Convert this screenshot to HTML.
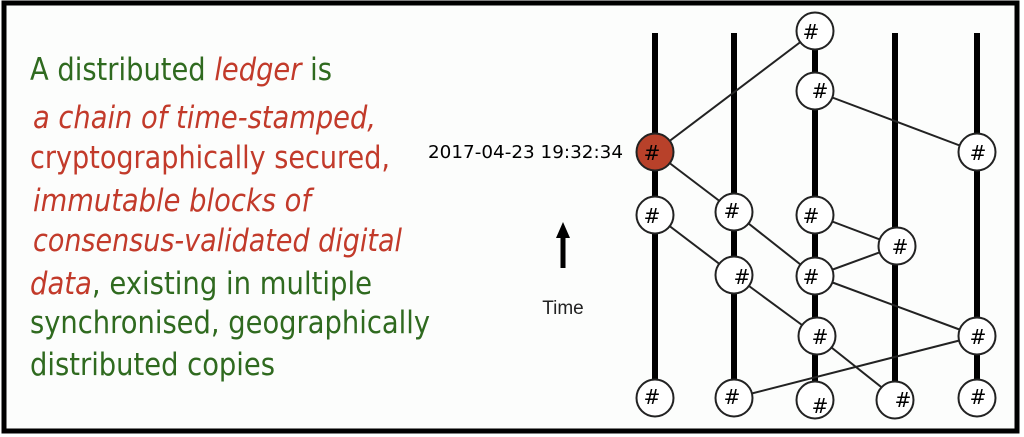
<!DOCTYPE html>
<html><head><meta charset="utf-8"><style>
html,body{margin:0;padding:0;background:#fff;}
svg{display:block;}
</style></head><body>
<svg width="1024" height="437" viewBox="0 0 1024 437" xmlns="http://www.w3.org/2000/svg">
<rect x="0" y="0" width="1024" height="437" fill="#fff"/>
<rect x="4" y="3" width="1013" height="428" fill="#fcfdfc" stroke="#000" stroke-width="5"/>
<g font-family="DejaVu Sans, Liberation Sans, sans-serif" font-size="31" fill="#2f6a1f">
<text x="30" y="80" textLength="302" lengthAdjust="spacingAndGlyphs">A distributed <tspan fill="#c23a2a" font-style="italic">ledger</tspan> is</text>
<text x="33" y="128" textLength="343" lengthAdjust="spacingAndGlyphs" fill="#c23a2a" font-style="italic">a chain of time-stamped,</text>
<text x="30" y="168" textLength="360" lengthAdjust="spacingAndGlyphs" fill="#c23a2a">cryptographically secured,</text>
<text x="33" y="211" textLength="278" lengthAdjust="spacingAndGlyphs" fill="#c23a2a" font-style="italic">immutable blocks of</text>
<text x="33" y="251" textLength="369" lengthAdjust="spacingAndGlyphs" fill="#c23a2a" font-style="italic">consensus-validated digital</text>
<text x="30" y="294" textLength="342" lengthAdjust="spacingAndGlyphs"><tspan fill="#c23a2a" font-style="italic">data</tspan>, existing in multiple</text>
<text x="30" y="333" textLength="400" lengthAdjust="spacingAndGlyphs">synchronised, geographically</text>
<text x="30" y="375" textLength="245" lengthAdjust="spacingAndGlyphs">distributed copies</text>
</g>
<text x="428" y="158" textLength="195" lengthAdjust="spacingAndGlyphs" font-family="DejaVu Sans, sans-serif" font-size="18" fill="#000">2017-04-23 19:32:34</text>
<line x1="563" y1="268" x2="563" y2="236" stroke="#000" stroke-width="5"/>
<polygon points="563,222 556,238 570,238" fill="#000"/>
<text x="563" y="314" text-anchor="middle" font-family="Liberation Sans, sans-serif" font-size="19" fill="#222">Time</text>
<g stroke="#000" stroke-width="6">
<line x1="655" y1="33" x2="655" y2="398"/>
<line x1="734" y1="33" x2="734" y2="398"/>
<line x1="815" y1="31" x2="815" y2="398"/>
<line x1="895" y1="33" x2="895" y2="398"/>
<line x1="977" y1="33" x2="977" y2="398"/>
</g>
<g stroke="#222" stroke-width="2">
<line x1="655" y1="152" x2="815" y2="31"/>
<line x1="655" y1="152" x2="734" y2="212"/>
<line x1="815" y1="91" x2="977" y2="152"/>
<line x1="655" y1="215" x2="734" y2="275"/>
<line x1="734" y1="212" x2="815" y2="276"/>
<line x1="815" y1="215" x2="897" y2="246"/>
<line x1="897" y1="246" x2="815" y2="276"/>
<line x1="815" y1="276" x2="977" y2="336"/>
<line x1="734" y1="275" x2="817" y2="336"/>
<line x1="817" y1="336" x2="895" y2="398"/>
<line x1="977" y1="336" x2="734" y2="398"/>
</g>
<g stroke="#222" stroke-width="2" fill="#fff">
<circle cx="815" cy="31" r="18.5"/>
<circle cx="815" cy="91" r="18.5"/>
<circle cx="655" cy="152" r="18.5" fill="#b8412a"/>
<circle cx="977" cy="152" r="18.5"/>
<circle cx="655" cy="215" r="18.5"/>
<circle cx="734" cy="212" r="18.5"/>
<circle cx="815" cy="215" r="18.5"/>
<circle cx="897" cy="246" r="18.5"/>
<circle cx="734" cy="275" r="18.5"/>
<circle cx="815" cy="276" r="18.5"/>
<circle cx="817" cy="336" r="18.5"/>
<circle cx="977" cy="336" r="18.5"/>
<circle cx="655" cy="398" r="18.5"/>
<circle cx="734" cy="398" r="18.5"/>
<circle cx="815" cy="400" r="18.5"/>
<circle cx="895" cy="400" r="18.5"/>
<circle cx="977" cy="398" r="18.5"/>
</g>
<g font-family="DejaVu Sans, sans-serif" font-size="20" fill="#000" text-anchor="middle">
<text x="811" y="39">#</text>
<text x="820" y="98">#</text>
<text x="652" y="160">#</text>
<text x="978" y="160">#</text>
<text x="652" y="223">#</text>
<text x="732" y="218">#</text>
<text x="811" y="223">#</text>
<text x="900" y="254">#</text>
<text x="742" y="284">#</text>
<text x="811" y="284">#</text>
<text x="820" y="344">#</text>
<text x="978" y="344">#</text>
<text x="652" y="404">#</text>
<text x="732" y="404">#</text>
<text x="820" y="413">#</text>
<text x="903" y="407">#</text>
<text x="978" y="404">#</text>
</g>
</svg>
</body></html>
